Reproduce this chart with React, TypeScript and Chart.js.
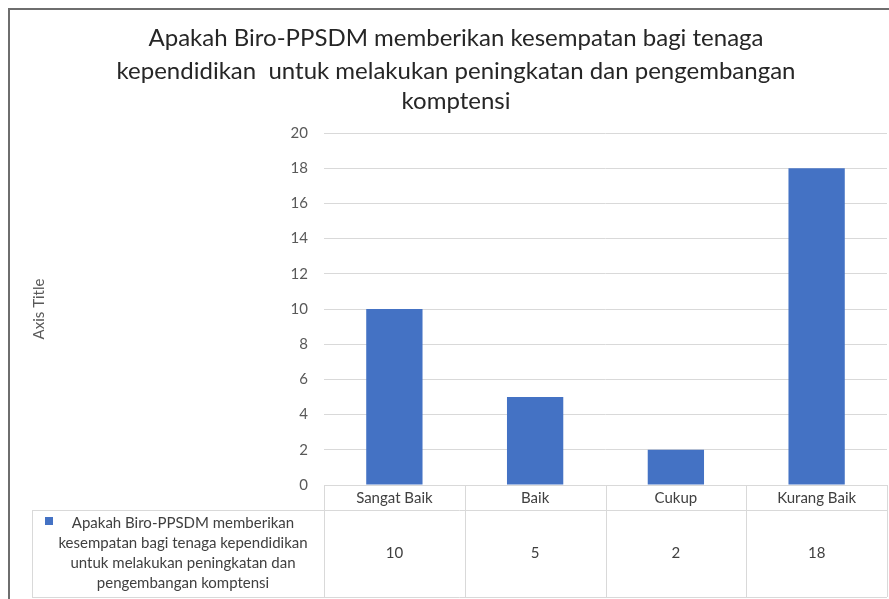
import React, { useEffect, useRef } from 'react';
import { Chart, registerables } from 'chart.js';

Chart.register(...registerables);

const categories = ['Sangat Baik', 'Baik', 'Cukup', 'Kurang Baik'];
const values = [10, 5, 2, 18];
const seriesName =
  'Apakah Biro-PPSDM memberikan kesempatan bagi tenaga kependidikan untuk melakukan peningkatan dan pengembangan komptensi';
const seriesLabelLines = [
  'Apakah Biro-PPSDM memberikan',
  'kesempatan bagi tenaga kependidikan',
  'untuk melakukan peningkatan dan',
  'pengembangan komptensi',
];
const titleLines = [
  'Apakah Biro-PPSDM memberikan kesempatan bagi tenaga',
  'kependidikan  untuk melakukan peningkatan dan pengembangan',
  'komptensi',
];
const yMin = 0;
const yMax = 20;
const yStep = 2;
const yAxisTitle = 'Axis Title';

const FONT = 'Lato, "Open Sans", sans-serif';
const BAR_COLOR = '#4472C4';
const GRID = '#d9d9d9';

const excelPlugin = {
  id: 'excelPlugin',
  beforeDraw(chart: any) {
    const { ctx, width, height } = chart;
    ctx.save();
    ctx.fillStyle = '#ffffff';
    ctx.fillRect(0, 0, width, height);
    ctx.restore();
  },
  afterDraw(chart: any) {
    const { ctx, width, height } = chart;
    const x = chart.scales.x;
    ctx.save();
    // outer border
    ctx.strokeStyle = '#6e6e6e';
    ctx.lineWidth = 2;
    ctx.beginPath();
    ctx.moveTo(9, height);
    ctx.lineTo(9, 9);
    ctx.lineTo(width, 9);
    ctx.stroke();

    // title
    ctx.fillStyle = '#262626';
    ctx.font = `24px ${FONT}`;
    ctx.textAlign = 'center';
    ctx.textBaseline = 'middle';
    const titleY = [38, 71, 101];
    titleLines.forEach((t, i) => ctx.fillText(t, 456, titleY[i]));

    // data table
    const top = x.top;
    const headerBottom = x.bottom;
    const rowBottom = height - 2;
    const tableLeft = 32;
    const bounds = categories.map((_, i) => x.getPixelForValue(i - 0.5));
    bounds.push(x.getPixelForValue(categories.length - 0.5));
    const right = bounds[bounds.length - 1];
    ctx.strokeStyle = GRID;
    ctx.lineWidth = 1;
    ctx.beginPath();
    ctx.moveTo(bounds[0], top + 0.5);
    ctx.lineTo(right, top + 0.5);
    ctx.moveTo(tableLeft, headerBottom + 0.5);
    ctx.lineTo(right, headerBottom + 0.5);
    ctx.moveTo(tableLeft, rowBottom + 0.5);
    ctx.lineTo(right, rowBottom + 0.5);
    bounds.forEach((b) => {
      const bx = Math.round(b) + 0.5;
      ctx.moveTo(bx, top);
      ctx.lineTo(bx, rowBottom);
    });
    ctx.moveTo(tableLeft + 0.5, headerBottom);
    ctx.lineTo(tableLeft + 0.5, rowBottom);
    ctx.stroke();

    // legend key
    ctx.fillStyle = BAR_COLOR;
    ctx.fillRect(45, 517, 8, 8);

    // legend text
    ctx.fillStyle = '#404040';
    ctx.font = `15px ${FONT}`;
    ctx.textAlign = 'center';
    ctx.textBaseline = 'middle';
    seriesLabelLines.forEach((t, i) => ctx.fillText(t, 183, 523 + i * 20));

    // values
    values.forEach((v, i) => {
      ctx.fillText(String(v), x.getPixelForValue(i), 553);
    });
    ctx.restore();
  },
};

export default function App() {
  const canvasRef = useRef<HTMLCanvasElement | null>(null);

  useEffect(() => {
    const canvas = canvasRef.current;
    if (!canvas) return;
    const chart = new Chart(canvas, {
      type: 'bar',
      data: {
        labels: categories,
        datasets: [
          {
            label: seriesName,
            data: values,
            backgroundColor: BAR_COLOR,
            borderWidth: 0,
            categoryPercentage: 1,
            barPercentage: 0.4,
          },
        ],
      },
      options: {
        responsive: false,
        animation: false,
        devicePixelRatio: 1,
        layout: { padding: { top: 133, left: 32, right: 2, bottom: 89 } },
        plugins: {
          legend: { display: false },
          title: { display: false },
          tooltip: { enabled: false },
        },
        scales: {
          x: {
            offset: true,
            grid: { display: false, drawTicks: false },
            border: { display: false },
            ticks: {
              color: '#404040',
              font: { family: FONT, size: 15 },
              padding: 4,
              maxRotation: 0,
              autoSkip: false,
            },
            afterFit: (s: any) => {
              s.height = 25;
            },
          },
          y: {
            min: yMin,
            max: yMax,
            ticks: {
              stepSize: yStep,
              color: '#595959',
              font: { family: FONT, size: 15 },
              padding: 16,
            },
            grid: { color: GRID, drawTicks: false },
            border: { display: false },
            title: {
              display: true,
              text: yAxisTitle,
              color: '#595959',
              font: { family: FONT, size: 15, lineHeight: 1 },
              padding: 0,
            },
            afterFit: (s: any) => {
              s.width = 292;
            },
          },
        },
      },
      plugins: [excelPlugin],
    });
    return () => chart.destroy();
  }, []);

  return (
    <div style={{ position: 'fixed', left: 0, top: 0, width: 889, height: 599 }}>
      <canvas ref={canvasRef} width={889} height={599} />
    </div>
  );
}
